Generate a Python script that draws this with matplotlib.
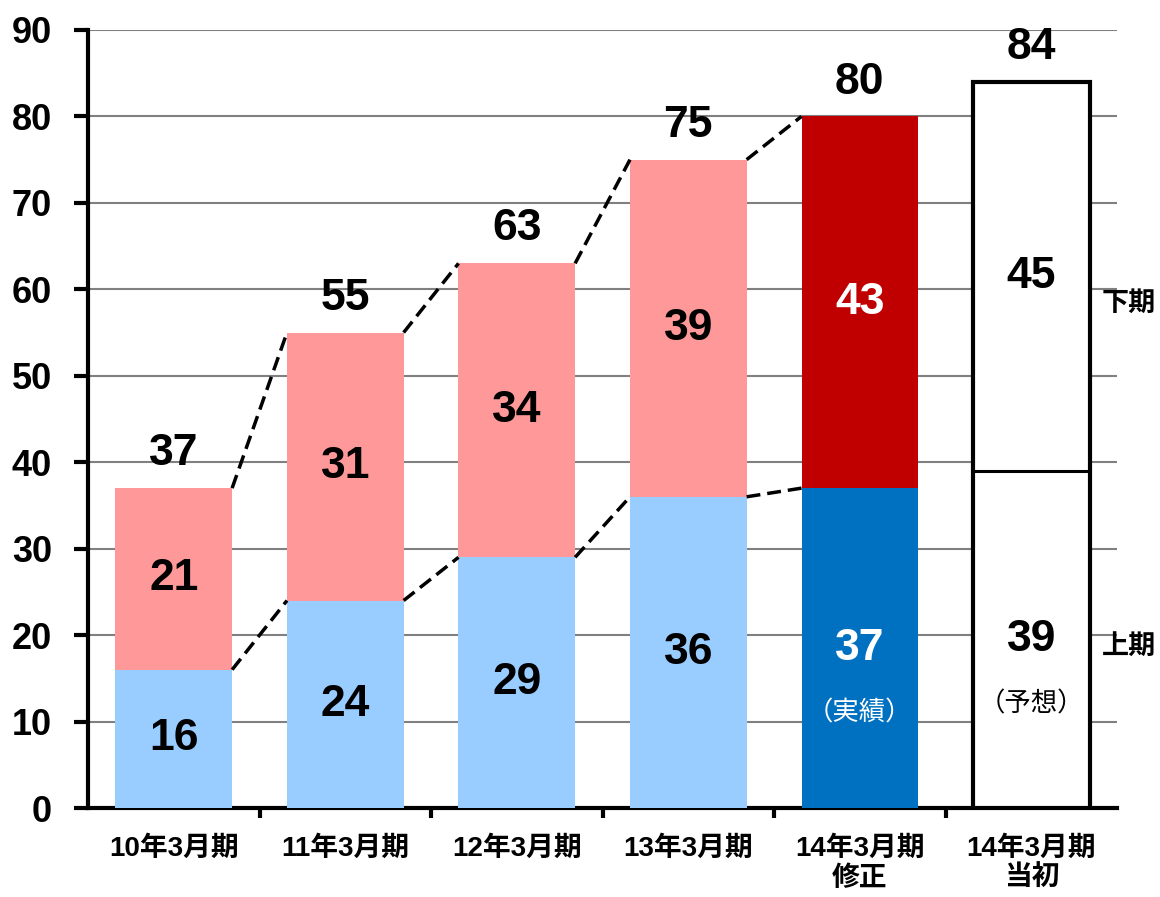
import matplotlib

matplotlib.use("Agg")
import matplotlib.pyplot as plt
import numpy as np

plt.rcParams["font.family"] = ["Liberation Sans", "Noto Sans CJK JP"]

categories = ["10年3月期", "11年3月期", "12年3月期", "13年3月期", "14年3月期\n修正", "14年3月期\n当初"]
first_half = [16, 24, 29, 36, 37, 39]
second_half = [21, 31, 34, 39, 43, 45]
totals = [37, 55, 63, 75, 80, 84]
notes = {4: "（実績）", 5: "（予想）"}

lower_colors = ["#99CCFF"] * 4 + ["#0070C0", "white"]
upper_colors = ["#FF9999"] * 4 + ["#C00000", "white"]
label_colors = ["black"] * 4 + ["white", "black"]

W = 0.68
x = np.arange(len(categories))

fig = plt.figure(figsize=(11.6, 8.97), dpi=100)
ax = fig.add_axes([0.0759, 0.0992, 0.8871, 0.8674])

ax.bar(x, first_half, width=W, color=lower_colors, zorder=3)
ax.bar(x, second_half, width=W, bottom=first_half, color=upper_colors, zorder=3)

# outlined forecast bar
ax.bar(x[-1], totals[-1], width=W, fill=False, edgecolor="black", linewidth=3, zorder=4)
ax.plot([x[-1] - W / 2, x[-1] + W / 2], [first_half[-1]] * 2, color="black", lw=2.2, zorder=4)

# dashed connectors between actual bars
for i in range(len(categories) - 2):
    for vals in (first_half, totals):
        ax.plot([x[i] + W / 2, x[i + 1] - W / 2], [vals[i], vals[i + 1]],
                color="black", lw=2.5, ls=(0, (4, 2)), zorder=5)

for i in x:
    ax.text(i, first_half[i] / 2, str(first_half[i]), ha="center", va="center",
            fontsize=32, fontweight="bold", color=label_colors[i], zorder=6)
    ax.text(i, first_half[i] + second_half[i] / 2, str(second_half[i]), ha="center", va="center",
            fontsize=32, fontweight="bold", color=label_colors[i], zorder=6)
    ax.annotate(str(totals[i]), (i, totals[i]), xytext=(0, 10), textcoords="offset points",
                ha="center", va="bottom", fontsize=32, fontweight="bold", zorder=6)
    if i in notes:
        ax.text(i, first_half[i] / 2 - 7.5, notes[i], ha="center", va="center",
                fontsize=19, color=label_colors[i], zorder=6)

ax.text(0.985, 58.3, "下期", transform=ax.get_yaxis_transform(), ha="left", va="center",
        fontsize=19.5, fontweight="bold")
ax.text(0.985, 18.6, "上期", transform=ax.get_yaxis_transform(), ha="left", va="center",
        fontsize=19.5, fontweight="bold")

ax.set_xlim(-0.5, len(categories) - 0.5)
ax.set_ylim(0, 90)
ax.set_yticks(np.arange(0, 91, 10))
ax.yaxis.grid(True, color="#808080", lw=1.5, zorder=0)
ax.set_axisbelow(True)

ax.set_xticks(x)
ax.set_xticklabels(categories, fontsize=20, fontweight="bold", linespacing=1.2)
ax.set_xticks(np.arange(0.5, len(categories) - 0.5, 1), minor=True)
ax.tick_params(axis="x", which="major", length=0, pad=20)
ax.tick_params(axis="x", which="minor", length=7, width=3, direction="out")
ax.tick_params(axis="y", length=10, width=3, pad=16, labelsize=26)
for lab in ax.get_yticklabels():
    lab.set_fontweight("bold")

for spine in ("top", "right"):
    ax.spines[spine].set_visible(False)
ax.spines["left"].set_linewidth(3)
ax.spines["bottom"].set_linewidth(3)

fig.savefig("out.png", dpi=100)
